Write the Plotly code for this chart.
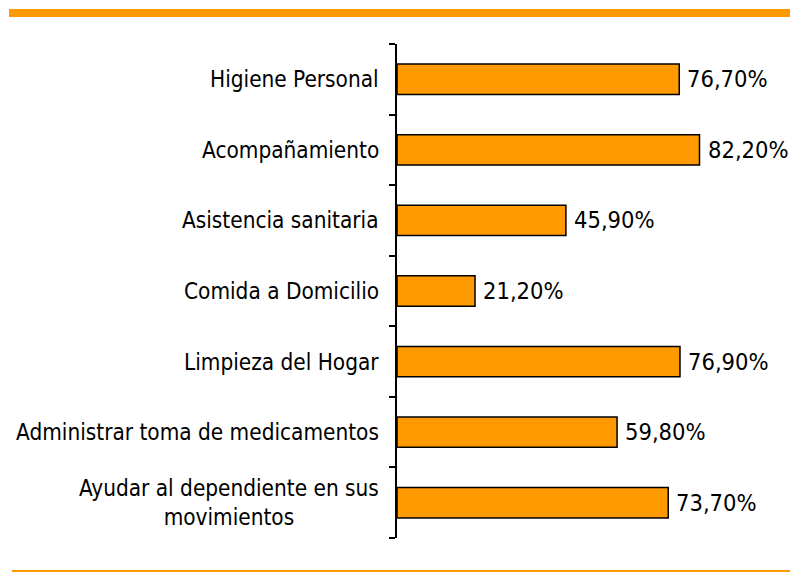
import plotly.graph_objects as go

categories = [
    "Higiene Personal",
    "Acompañamiento",
    "Asistencia sanitaria",
    "Comida a Domicilio",
    "Limpieza del Hogar",
    "Administrar toma de medicamentos",
    "Ayudar al dependiente en sus<br>movimientos",
]
values = [76.7, 82.2, 45.9, 21.2, 76.9, 59.8, 73.7]
value_labels = ["76,70%", "82,20%", "45,90%", "21,20%", "76,90%", "59,80%", "73,70%"]

FONT = "DejaVu Sans Condensed, Liberation Sans, Arial, sans-serif"
FS_CAT = 22.4
FS_VAL = 23.5
ORANGE = "#FF9900"

# page body has an 8px margin; figure sized to fit the 798x573 window
OFF = 8
W, H = 798 - OFF, 573 - OFF
L, R, T, B = 389, 33, 36, 35
pw = W - L - R
ph = H - T - B

ypos = list(range(len(categories)))

fig = go.Figure()
fig.add_trace(go.Bar(
    x=values, y=ypos, orientation="h",
    width=0.43,
    marker=dict(color=ORANGE, line=dict(color="black", width=1.5)),
    hoverinfo="skip",
))

ann = []
for i, (c, v, t) in enumerate(zip(categories, values, value_labels)):
    ann.append(dict(x=0, xref="paper", y=i, yref="y", text=c, showarrow=False,
                    xanchor="right", yanchor="middle", align="center", xshift=-16,
                    font=dict(family=FONT, size=FS_CAT, color="black")))
    ann.append(dict(x=v, xref="x", y=i, yref="y", text=t, showarrow=False,
                    xanchor="left", yanchor="middle", xshift=6,
                    font=dict(family=FONT, size=FS_VAL, color="black")))

def px_x(p):
    return (p - OFF - L) / pw

def px_y(p):
    return (H - B - (p - OFF)) / ph

shapes = [
    dict(type="rect", xref="paper", yref="paper",
         x0=px_x(9), x1=px_x(793), y0=px_y(17), y1=px_y(9),
         fillcolor=ORANGE, line=dict(width=0), layer="above"),
    dict(type="rect", xref="paper", yref="paper",
         x0=px_x(12), x1=px_x(798), y0=px_y(572), y1=px_y(570),
         fillcolor=ORANGE, line=dict(width=0), layer="above"),
]

fig.update_layout(
    width=W, height=H,
    margin=dict(l=L, r=R, t=T, b=B, pad=0),
    paper_bgcolor="white", plot_bgcolor="white",
    showlegend=False,
    annotations=ann, shapes=shapes,
    xaxis=dict(range=[0, 100], visible=False, fixedrange=True),
    yaxis=dict(range=[len(categories) - 0.5, -0.5],
               tickmode="array",
               tickvals=[i - 0.5 for i in range(len(categories) + 1)],
               ticktext=["" for _ in range(len(categories) + 1)],
               ticks="outside", ticklen=6, tickwidth=2, tickcolor="black",
               showline=True, linecolor="black", linewidth=2,
               showgrid=False, zeroline=False, fixedrange=True),
)

fig.write_html("out.html")
